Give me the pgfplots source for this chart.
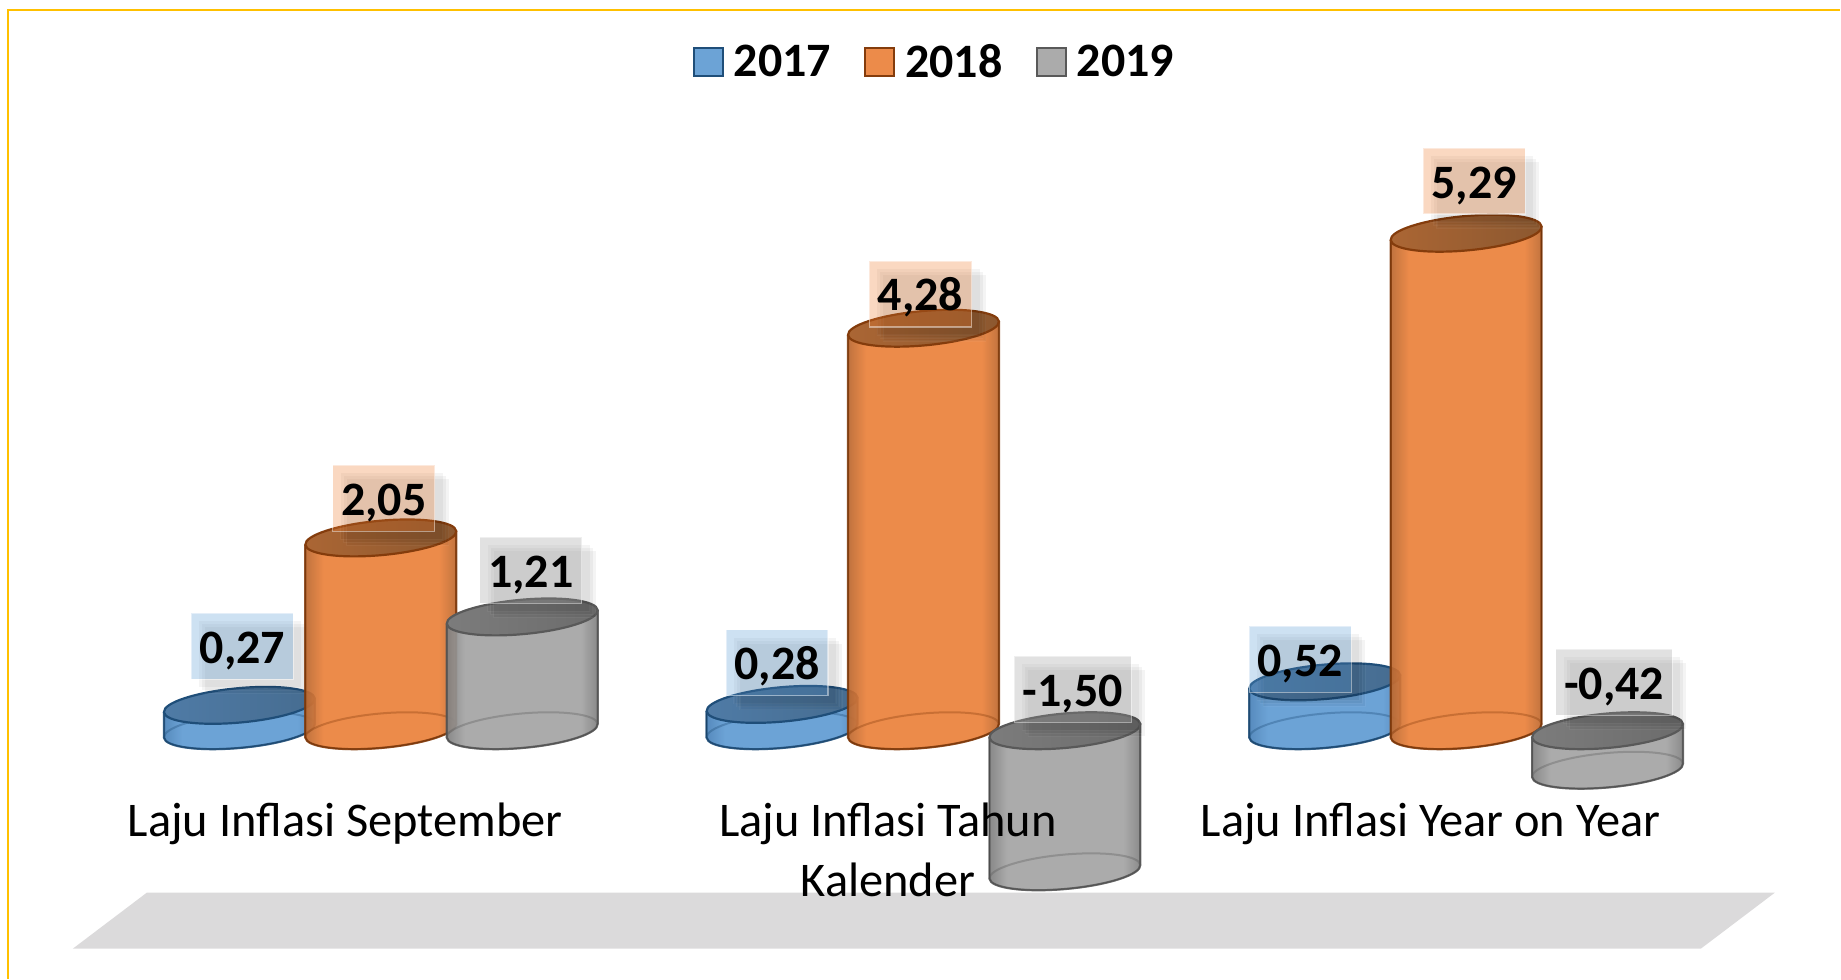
\documentclass[border=0pt]{standalone}
\usepackage{fontspec}
\setmainfont{Carlito}
\usepackage{pgfplots}
\usepackage{pgfplotstable}
\pgfplotsset{compat=1.18}
\usetikzlibrary{shadows}

\definecolor{blueface}{HTML}{619CD3}
\definecolor{blueedge}{HTML}{4A82B8}
\definecolor{blueline}{HTML}{1F4E79}
\definecolor{bluetopa}{HTML}{4F7BA6}
\definecolor{bluetopb}{HTML}{466C90}
\definecolor{orangeface}{HTML}{EB823C}
\definecolor{orangeedge}{HTML}{BB6830}
\definecolor{orangeline}{HTML}{843C0C}
\definecolor{orangetopa}{HTML}{AB6634}
\definecolor{orangetopb}{HTML}{8C5830}
\definecolor{grayface}{HTML}{A5A5A5}
\definecolor{grayedge}{HTML}{808080}
\definecolor{grayline}{HTML}{595959}
\definecolor{graytopa}{HTML}{7C7C7C}
\definecolor{graytopb}{HTML}{6C6C6C}
\definecolor{bluelbl}{HTML}{5B9BD5}
\definecolor{orangelbl}{HTML}{ED7D31}
\definecolor{graylbl}{HTML}{A5A5A5}
\definecolor{floorgray}{HTML}{DBDADB}
\definecolor{framegold}{HTML}{FFC000}

\pgfdeclarehorizontalshading{blueshade}{100bp}{color(0bp)=(blueedge); color(25bp)=(blueedge); color(31bp)=(blueface); color(69bp)=(blueface); color(75bp)=(blueedge); color(100bp)=(blueedge)}
\pgfdeclarehorizontalshading{orangeshade}{100bp}{color(0bp)=(orangeedge); color(25bp)=(orangeedge); color(31bp)=(orangeface); color(69bp)=(orangeface); color(75bp)=(orangeedge); color(100bp)=(orangeedge)}
\pgfdeclarehorizontalshading{grayshade}{100bp}{color(0bp)=(grayedge); color(25bp)=(grayedge); color(31bp)=(grayface); color(69bp)=(grayface); color(75bp)=(grayedge); color(100bp)=(grayedge)}

% tilted ellipse as beziers, #1 = height of the centre in px (front half, then back half)
\newcommand{\ellfront}[1]{.. controls (-74.63,#1-16.33) and (-40.13,#1-20.92) .. (1.56,#1-17.13)
  .. controls (43.25,#1-13.34) and (76.35,#1-2.59) .. (75.49,#1+6.87)}
\newcommand{\ellback}[1]{.. controls (74.63,#1+16.33) and (40.13,#1+20.92) .. (-1.56,#1+17.13)
  .. controls (-43.25,#1+13.34) and (-76.35,#1+2.59) .. (-75.49,#1-6.87)}

% cylinder mark: 1 px = 0.5pt, 94.1 px per unit of y, mark sits at the data value
\newcommand{\declarecyl}[1]{%
  \pgfdeclareplotmark{cyl#1}{%
    \pgfmathsetmacro\hh{\val*94.1}%
    \pgfmathsetmacro\yt{max(0,-\hh)}%
    \pgfmathsetmacro\yb{min(0,-\hh)}%
    \begin{scope}[x=0.5pt,y=0.5pt]
      \path[shading=#1shade,opacity=.93] (-75.49,\yb-6.87) \ellfront{\yb}
        -- (75.49,\yt+6.87) -- (-75.49,\yt-6.87) -- cycle;
      \draw[#1line,line width=1pt,opacity=.35] (-75.49,\yb-6.87) \ellfront{\yb} \ellback{\yb} -- cycle;
      \draw[#1line,line width=1.1pt,opacity=.85] (-75.49,\yt-6.87) -- (-75.49,\yb-6.87) \ellfront{\yb}
        -- (75.49,\yt+6.87);
      \path[left color=#1topa,right color=#1topb,draw=#1line,line width=1.1pt]
        (-75.49,\yt-6.87) \ellfront{\yt} \ellback{\yt} -- cycle;
    \end{scope}%
  }%
}
\declarecyl{blue}
\declarecyl{orange}
\declarecyl{gray}

% x: category 0,1,2 with the bar offset; lx, ly: label offset from the data point, in px
\pgfplotstableread{
x y lbl lx ly
-0.2606 0.27 0,27 3 59
0.7394 0.28 0,28 -5 41.7
1.7394 0.52 0,52 -24.5 22.5
}\tblA
\pgfplotstableread{
x y lbl lx ly
0 2.05 2,05 3 39.5
1 4.28 4,28 -3 34.3
2 5.29 5,29 8 52.2
}\tblB
\pgfplotstableread{
x y lbl lx ly
0.2606 1.21 1,21 8.5 46.5
1.2606 -1.50 -1,50 8 182.5
2.2606 -0.42 -0,42 6.5 88
}\tblC

\pgfplotsset{
  frame axis/.style={
    x=271.5pt, y=47.05pt,
    xmin=-0.7017, xmax=2.6888,
    ymin=-2.635, ymax=7.768,
    clip=false,
    axis line style={draw=none},
    major tick length=0pt,
    ymajorticks=false,
  },
  cyl series/.style n args={3}{
    scatter, only marks, mark=cyl#1,
    point meta=explicit symbolic,
    visualization depends on=rawy\as\val,
    visualization depends on=\thisrow{lx}\as\lx,
    visualization depends on=\thisrow{ly}\as\ly,
    scatter/@pre marker code/.code={\scope},
    scatter/@post marker code/.code={\endscope},
    nodes near coords={\pgfplotspointmeta},
    nodes near coords style={
      anchor=center, xshift=\lx*0.5pt, yshift=\ly*0.5pt,
      font=\bfseries\fontsize{24}{24}\selectfont, text=black,
      inner xsep=4.2pt, inner ysep=0pt, minimum height=33pt,
      text height=17pt, text depth=0pt,
      fill=#2, fill opacity=#3, text opacity=1,
      draw=white, draw opacity=.45, line width=.6pt,
      drop shadow={shadow xshift=4pt,shadow yshift=-4pt,opacity=.045,fill=black},
      drop shadow={shadow xshift=5.5pt,shadow yshift=-5.5pt,opacity=.045,fill=black},
      drop shadow={shadow xshift=7pt,shadow yshift=-7pt,opacity=.045,fill=black},
    },
    legend image code/.code={
      \draw[fill=#1face,fill opacity=.93,draw=#1line,line width=1pt] (0pt,-7pt) rectangle (14.5pt,7pt);
    },
  },
}

\begin{document}
\begin{tikzpicture}
\begin{axis}[
    frame axis,
    xtick=\empty,
    legend columns=3,
    legend style={at={(rel axis cs:0.5084,0.9367)}, anchor=center, draw=none, fill=none,
      font=\bfseries\fontsize{24}{24}\selectfont,
      /tikz/every odd column/.append style={column sep=3pt},
      /tikz/every even column/.append style={column sep=14.7pt}},
]
\fill[floorgray] (rel axis cs:0.03965,0.03064) -- (rel axis cs:0.92450,0.03064)
  -- (rel axis cs:0.96469,0.08784) -- (rel axis cs:0.07985,0.08784) -- cycle;
\draw[framegold,line width=1.1pt]
  (rel axis cs:0.00435,0) -- (rel axis cs:0.00435,0.98979) -- (rel axis cs:1,0.98979);

\addplot[cyl series={blue}{bluelbl}{.3}] table[x=x,y=y,meta=lbl] {\tblA};
\addplot[cyl series={orange}{orangelbl}{.3}] table[x=x,y=y,meta=lbl] {\tblB};
\addplot[cyl series={gray}{graylbl}{.33}] table[x=x,y=y,meta=lbl] {\tblC};
\legend{2017,2018,2019}
\end{axis}
% second axis on the same box: the category names lie over the cylinders
\begin{axis}[
    frame axis,
    xtick={0,1,2},
    xticklabels={Laju Inflasi September,{Laju Inflasi Tahun\\Kalender},Laju Inflasi Year on Year},
    x tick label style={anchor=north, align=center, xshift=-17.8pt, yshift=91.5pt,
      font=\fontsize{24.2}{30}\selectfont},
]
\end{axis}
\end{tikzpicture}
\end{document}
